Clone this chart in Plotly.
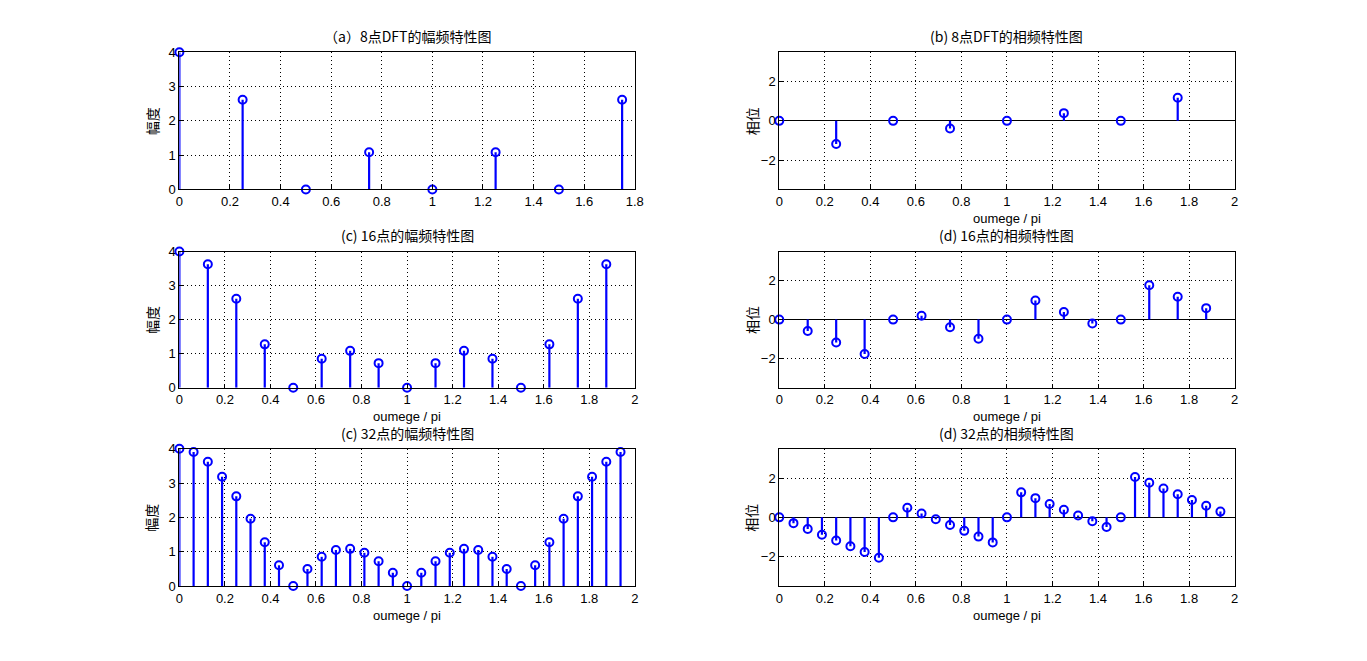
import plotly.graph_objects as go

# ---- data ----
w8 = [0, 0.25, 0.5, 0.75, 1.0, 1.25, 1.5, 1.75]
mag8 = [4.0, 2.613, 0.0, 1.082, 0.0, 1.082, 0.0, 2.613]
ph8 = [0.0, -1.178, 0.0, -0.393, 0.0, 0.393, 0.0, 1.178]

w16 = [0, 0.125, 0.25, 0.375, 0.5, 0.625, 0.75, 0.875,
       1.0, 1.125, 1.25, 1.375, 1.5, 1.625, 1.75, 1.875]
mag16 = [4.0, 3.624, 2.613, 1.273, 0.0, 0.850, 1.082, 0.721,
         0.0, 0.721, 1.082, 0.850, 0.0, 1.273, 2.613, 3.624]
ph16 = [0.0, -0.589, -1.178, -1.767, 0.0, 0.196, -0.393, -0.982,
        0.0, 0.982, 0.393, -0.196, 0.0, 1.767, 1.178, 0.589]

w32 = [0, 0.0625, 0.125, 0.1875, 0.25, 0.3125, 0.375, 0.4375,
       0.5, 0.5625, 0.625, 0.6875, 0.75, 0.8125, 0.875, 0.9375,
       1.0, 1.0625, 1.125, 1.1875, 1.25, 1.3125, 1.375, 1.4375,
       1.5, 1.5625, 1.625, 1.6875, 1.75, 1.8125, 1.875, 1.9375]
mag32 = [4.0, 3.904, 3.624, 3.183, 2.613, 1.960, 1.273, 0.603,
         0.0, 0.495, 0.850, 1.048, 1.082, 0.966, 0.721, 0.385,
         0.0, 0.385, 0.721, 0.966, 1.082, 1.048, 0.850, 0.495,
         0.0, 0.603, 1.273, 1.960, 2.613, 3.183, 3.624, 3.904]
ph32 = [0.0, -0.295, -0.589, -0.884, -1.178, -1.473, -1.767, -2.062,
        0.0, 0.491, 0.196, -0.098, -0.393, -0.687, -0.982, -1.276,
        0.0, 1.276, 0.982, 0.687, 0.393, 0.098, -0.196, -0.491,
        0.0, 2.062, 1.767, 1.473, 1.178, 0.884, 0.589, 0.295]

titles = ["（a）8点DFT的幅频特性图", "(b) 8点DFT的相频特性图",
          "(c) 16点的幅频特性图", "(d) 16点的相频特性图",
          "(c) 32点的幅频特性图", "(d) 32点的相频特性图"]
xlabel = "oumege / pi"
ylab_mag = "幅度"
ylab_ph = "相位"
xticks_18 = [0, 0.2, 0.4, 0.6, 0.8, 1, 1.2, 1.4, 1.6, 1.8]
xticks_2 = [0, 0.2, 0.4, 0.6, 0.8, 1, 1.2, 1.4, 1.6, 1.8, 2]
yticks_mag = [0, 1, 2, 3, 4]
yticks_ph = [-2, 0, 2]

W, H = 1367, 661
BLUE = "#0000ff"
CJK = "Noto Sans CJK SC"
SANS = "Liberation Sans, Arial, sans-serif"
DOT = "1px,3px"


def pg(y):
    # target screen row -> page row (page appears with a small top offset, scaled)
    return y / 0.976 - 8


def px(x):
    # target screen column -> page column
    return (x - 2) / 0.994


# panel boxes in target pixels: (left, right) per column, (top, bottom) per row
cols = [(178, 635), (780, 1237)]
rows = [(53, 190), (252, 388), (449, 586)]

series = [
    (w8, mag8, ph8, [0, 1.8], xticks_18),
    (w16, mag16, ph16, [0, 2], xticks_2),
    (w32, mag32, ph32, [0, 2], xticks_2),
]

fig = go.Figure()
layout = dict(width=W, height=H, margin=dict(l=0, r=0, t=0, b=0),
              paper_bgcolor="white", plot_bgcolor="white", showlegend=False,
              font=dict(family=SANS, size=12, color="black"))
annotations = []


def stems(x, y):
    sx, sy = [], []
    for a, b in zip(x, y):
        sx += [a, a, None]
        sy += [0, b, None]
    return sx, sy


idx = 0
for r, (w, mag, ph, xr_mag, xt_mag) in enumerate(series):
    for c in range(2):
        idx += 1
        xa = "x" if idx == 1 else f"x{idx}"
        ya = "y" if idx == 1 else f"y{idx}"
        xkey = "xaxis" if idx == 1 else f"xaxis{idx}"
        ykey = "yaxis" if idx == 1 else f"yaxis{idx}"
        l, rr = cols[c]
        t, b = rows[r]
        xdom = [px(l) / W, px(rr) / W]
        ydom = [1 - pg(b) / H, 1 - pg(t) / H]
        vals = mag if c == 0 else ph
        sx, sy = stems(w, vals)
        fig.add_trace(go.Scatter(x=sx, y=sy, mode="lines", xaxis=xa, yaxis=ya,
                                 line=dict(color=BLUE, width=2.2), hoverinfo="skip",
                                 cliponaxis=False))
        fig.add_trace(go.Scatter(x=w, y=vals, mode="markers", xaxis=xa, yaxis=ya,
                                 marker=dict(symbol="circle-open", size=8, color=BLUE,
                                             line=dict(width=2, color=BLUE)),
                                 cliponaxis=False))
        if c == 0:
            xr, xtv = xr_mag, xt_mag
            yr, ytv = [0, 4], yticks_mag
        else:
            xr, xtv = [0, 2], xticks_2
            yr, ytv = [-3.5, 3.5], yticks_ph
        xtt = [("%g" % v) for v in xtv]
        layout[xkey] = dict(domain=xdom, range=xr, anchor=ya, tickvals=xtv, ticktext=xtt,
                            showgrid=True, gridcolor="black", griddash=DOT, gridwidth=1,
                            zeroline=False, showline=True, linecolor="black", linewidth=1,
                            mirror=True, ticks="inside", ticklen=4, tickcolor="black",
                            tickfont=dict(family=SANS, size=13), fixedrange=True)
        layout[ykey] = dict(domain=ydom, range=yr, anchor=xa, tickvals=ytv,
                            showgrid=True, gridcolor="black", griddash=DOT, gridwidth=1,
                            zeroline=(c == 1), zerolinecolor="black", zerolinewidth=1,
                            showline=True, linecolor="black", linewidth=1,
                            mirror=True, ticks="inside", ticklen=4, tickcolor="black",
                            tickfont=dict(family=SANS, size=13), fixedrange=True)
        # title
        annotations.append(dict(text=titles[idx - 1], xref="paper", yref="paper",
                                x=px((l + rr) / 2) / W, y=1 - pg(t - 16) / H,
                                xanchor="center", yanchor="middle", showarrow=False,
                                font=dict(family=CJK, size=14, color="black")))
        # y label
        annotations.append(dict(text=ylab_mag if c == 0 else ylab_ph, xref="paper",
                                yref="paper", x=px(l - 28) / W, y=1 - pg((t + b) / 2) / H,
                                xanchor="center", yanchor="middle", textangle=-90,
                                showarrow=False,
                                font=dict(family=CJK, size=14, color="black")))
        # x label
        if idx != 1:
            annotations.append(dict(text=xlabel, xref="paper", yref="paper",
                                    x=px((l + rr) / 2) / W, y=1 - pg(b + 29) / H,
                                    xanchor="center", yanchor="middle", showarrow=False,
                                    font=dict(family=SANS, size=13, color="black")))

layout["annotations"] = annotations
fig.update_layout(**layout)
fig.write_html("out.html")
